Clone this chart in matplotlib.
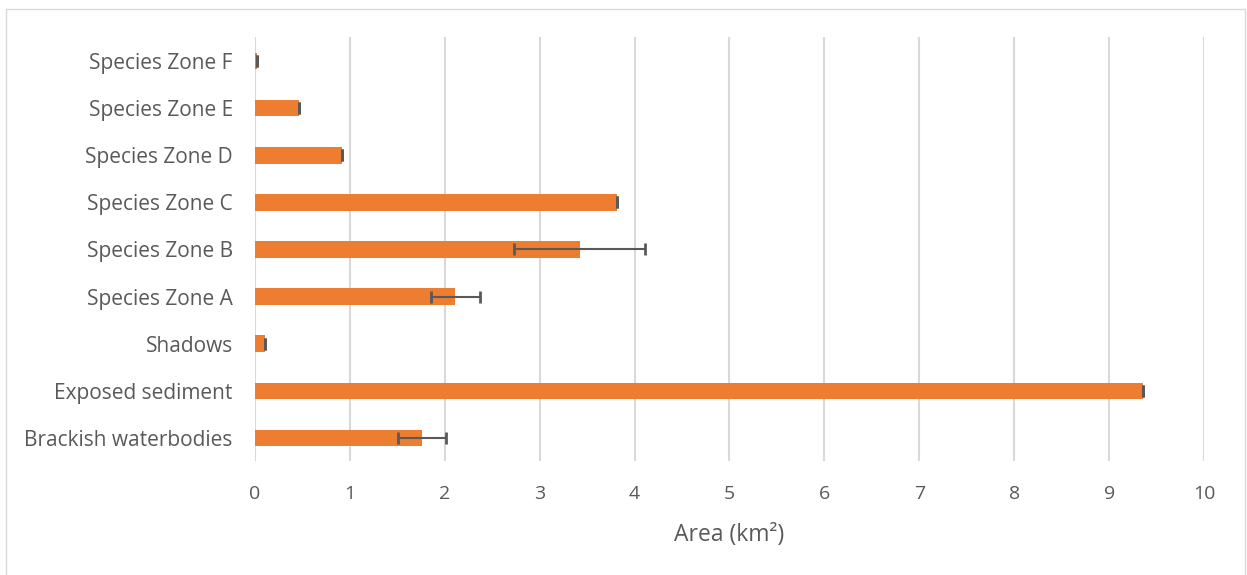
import matplotlib.pyplot as plt
from matplotlib.patches import Rectangle

categories = ["Brackish waterbodies", "Exposed sediment", "Shadows",
              "Species Zone A", "Species Zone B", "Species Zone C",
              "Species Zone D", "Species Zone E", "Species Zone F"]
areas = [1.76, 9.36, 0.10, 2.11, 3.42, 3.81, 0.92, 0.46, 0.02]
errors = [0.25, 0.0, 0.0, 0.26, 0.69, 0.0, 0.0, 0.0, 0.0]
x_ticks = list(range(0, 11))

plt.rcParams['font.family'] = ['Open Sans', 'DejaVu Sans']
text_color = "#595959"

fig = plt.figure(figsize=(12.47, 5.75), dpi=100)
ax = fig.add_axes([0.2045, 0.1974, 0.761, 0.7374])

ax.barh(categories, areas, height=0.35, color="#ED7D31", zorder=3,
        xerr=errors, error_kw=dict(ecolor=text_color, elinewidth=1.5,
                                   capsize=4.3, capthick=2, zorder=4))

ax.set_xlim(0, 10)
ax.set_ylim(-0.5, len(categories) - 0.5)
ax.set_xticks(x_ticks)
ax.grid(axis="x", color="#D9D9D9", linewidth=1.5, zorder=0)
for s in ax.spines.values():
    s.set_visible(False)
ax.tick_params(length=0, labelcolor=text_color)
ax.tick_params(axis="x", pad=17, labelsize=14)
ax.tick_params(axis="y", pad=16, labelsize=15)
ax.set_xlabel("Area (km²)", fontsize=16.5, color=text_color, labelpad=14)

fig.patches.append(Rectangle((6 / 1247, -10 / 575), 1239 / 1247, 576 / 575,
                             transform=fig.transFigure, fill=False,
                             edgecolor="#D9D9D9", linewidth=1))

fig.savefig("out.png", dpi=100)
